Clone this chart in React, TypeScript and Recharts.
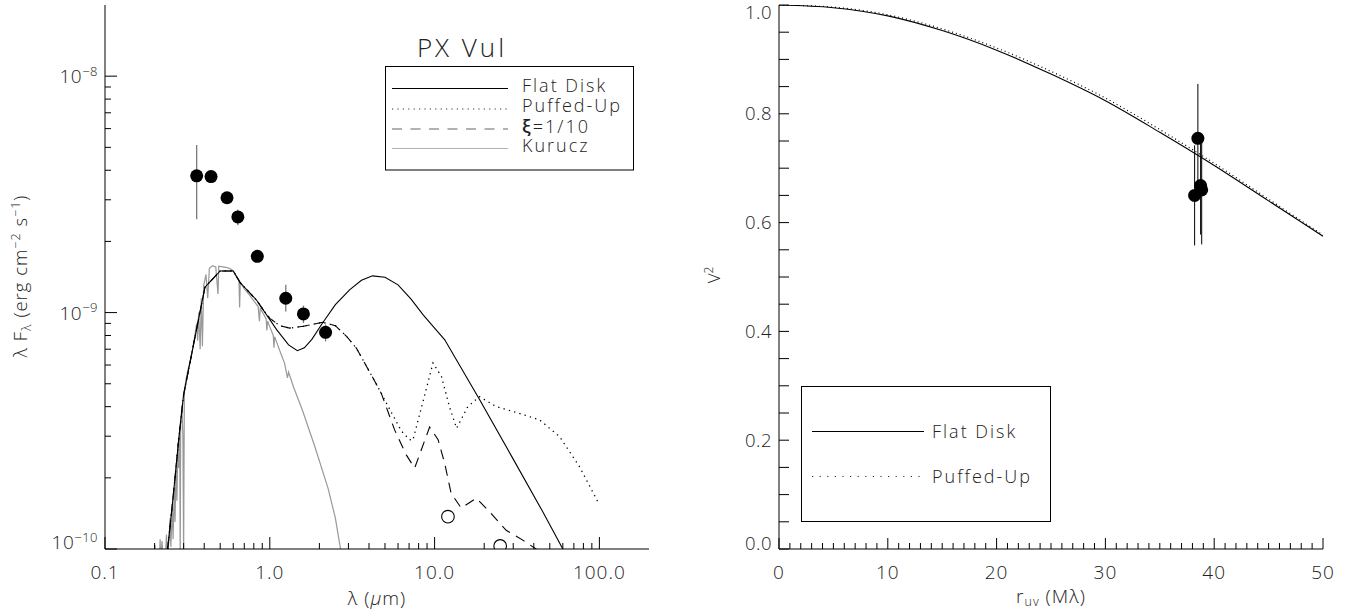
import React from "react";
import { ComposedChart, Line, Scatter, XAxis, YAxis, ErrorBar } from "recharts";

const FONT = "'Open Sans', 'DejaVu Sans', Arial, sans-serif";
const INK = "#222";

// ---- SED panel: wavelength (micron), lambda F_lambda (erg cm^-2 s^-1)
const flatDisk: [number, number][] = [
  [0.24, 1.0e-10], [0.26, 1.7e-10], [0.28, 2.9e-10], [0.3, 4.5e-10],
  [0.404, 1.28e-9], [0.5, 1.5e-9], [0.6, 1.5e-9], [0.66, 1.34e-9],
  [0.83, 1.13e-9], [1.1, 8.47e-10], [1.3, 7.3e-10], [1.47, 6.9e-10],
  [1.62, 7.1e-10], [1.8, 7.7e-10], [2.09, 9.04e-10], [2.5, 1.08e-9],
  [3.06, 1.25e-9], [3.6, 1.37e-9], [4.2, 1.43e-9], [5.0, 1.41e-9],
  [6.0, 1.31e-9], [7.2, 1.14e-9], [8.5, 9.8e-10], [10, 8.6e-10],
  [11.5, 7.69e-10], [18.7, 4.3e-10], [30, 2.4e-10], [45, 1.45e-10],
  [60, 1.0e-10], [70, 0.83e-10],
];

// puffed-up and xi=1/10 models coincide up to ~5 micron
const diskCommon: [number, number][] = [
  [0.24, 1.0e-10], [0.26, 1.7e-10], [0.28, 2.9e-10], [0.3, 4.5e-10],
  [0.404, 1.28e-9], [0.5, 1.5e-9], [0.6, 1.5e-9], [0.66, 1.34e-9],
  [0.83, 1.13e-9], [0.91, 1.03e-9], [1.0, 9.45e-10], [1.15, 8.8e-10],
  [1.32, 8.6e-10], [1.6, 8.75e-10], [2.09, 9.1e-10], [2.5, 8.8e-10],
  [2.92, 7.94e-10], [3.35, 7.08e-10], [4.1, 5.5e-10], [4.75, 4.55e-10],
];

const puffedTail: [number, number][] = [
  [5.5, 3.75e-10], [6.3, 3.15e-10], [7.05, 2.9e-10], [7.38, 2.88e-10],
  [8.5, 4.2e-10], [9.78, 6.12e-10], [11.0, 5.37e-10], [12.3, 4.0e-10],
  [13.6, 3.24e-10], [15.9, 4.0e-10], [18.7, 4.41e-10], [23.7, 4.0e-10],
  [29.8, 3.82e-10], [43.3, 3.52e-10], [57.3, 2.99e-10], [75.7, 2.23e-10],
  [100, 1.54e-10],
];

const xiTail: [number, number][] = [
  [5.72, 3.19e-10], [6.73, 2.5e-10], [7.57, 2.2e-10], [9.33, 3.28e-10],
  [10.5, 2.9e-10], [11.5, 2.31e-10], [12.6, 1.72e-10], [14.5, 1.49e-10],
  [17.9, 1.64e-10], [21.5, 1.44e-10], [27.2, 1.2e-10], [34.3, 1.09e-10],
  [41.3, 1.0e-10], [50, 0.92e-10],
];

const kurucz: [number, number][] = [
  [0.2, 0.95e-10], [0.201, 1.04e-10], [0.203, 0.9e-10],
  [0.214, 0.9e-10], [0.216, 1.1e-10], [0.218, 0.9e-10],
  [0.222, 1.08e-10], [0.225, 0.9e-10],
  [0.233, 0.95e-10], [0.236, 1.15e-10], [0.239, 0.95e-10],
  [0.245, 1.1e-10], [0.248, 1.35e-10], [0.251, 1.02e-10],
  [0.256, 1.5e-10], [0.259, 1.1e-10],
  [0.263, 1.8e-10], [0.266, 1.3e-10],
  [0.27, 2.3e-10], [0.273, 1.6e-10],
  [0.277, 2.8e-10], [0.28, 2.2e-10],
  [0.284, 3.3e-10], [0.286, 0.9e-10], [0.288, 3.5e-10],
  [0.293, 4.0e-10], [0.297, 3.0e-10], [0.3, 0.95e-10], [0.303, 4.6e-10],
  [0.31, 5.2e-10], [0.32, 5.8e-10], [0.33, 6.3e-10], [0.34, 7.0e-10],
  [0.35, 7.9e-10], [0.36, 9.0e-10], [0.365, 7.6e-10], [0.37, 1.0e-9],
  [0.378, 7.0e-10], [0.384, 1.15e-9], [0.39, 7.2e-10], [0.397, 1.3e-9],
  [0.41, 1.45e-9], [0.42, 1.15e-9], [0.43, 1.54e-9], [0.45, 1.58e-9],
  [0.47, 1.56e-9], [0.485, 1.2e-9], [0.49, 1.57e-9], [0.52, 1.56e-9],
  [0.55, 1.55e-9], [0.58, 1.53e-9], [0.6, 1.5e-9], [0.62, 1.44e-9],
  [0.65, 1.37e-9], [0.656, 1.05e-9], [0.662, 1.34e-9], [0.7, 1.26e-9],
  [0.75, 1.19e-9], [0.8, 1.12e-9], [0.85, 1.06e-9], [0.865, 9.2e-10],
  [0.875, 1.04e-9], [0.92, 9.8e-10], [0.95, 9.4e-10], [0.96, 8.4e-10],
  [0.97, 9.2e-10], [1.0, 8.7e-10], [1.05, 8.0e-10], [1.06, 7.1e-10],
  [1.07, 7.9e-10], [1.1, 7.5e-10], [1.15, 6.9e-10], [1.23, 6.1e-10],
  [1.28, 5.3e-10], [1.3, 5.6e-10], [1.4, 4.8e-10], [1.57, 3.9e-10],
  [1.88, 2.7e-10], [2.26, 1.8e-10], [2.5, 1.35e-10], [2.7, 0.98e-10],
  [2.8, 0.88e-10],
];

const photLambda = [0.36, 0.44, 0.55, 0.64, 0.84, 1.25, 1.6, 2.18];
const photFlux = [3.79e-9, 3.76e-9, 3.06e-9, 2.54e-9, 1.73e-9, 1.15e-9, 9.87e-10, 8.25e-10];
const photLow = [2.48e-9, 3.76e-9, 3.06e-9, 2.34e-9, 1.73e-9, 1.01e-9, 9.04e-10, 7.55e-10];
const photHigh = [5.12e-9, 3.76e-9, 3.06e-9, 2.73e-9, 1.73e-9, 1.31e-9, 1.07e-9, 8.9e-10];

const irasLambda = [12.05, 25.0];
const irasFlux = [1.37e-10, 1.03e-10];

const lamTicks = [
  0.1, 0.2, 0.3, 0.4, 0.5, 0.6, 0.7, 0.8, 0.9,
  1, 2, 3, 4, 5, 6, 7, 8, 9,
  10, 20, 30, 40, 50, 60, 70, 80, 90, 100,
];
const fluxTicks = [
  1e-10, 2e-10, 3e-10, 4e-10, 5e-10, 6e-10, 7e-10, 8e-10, 9e-10,
  1e-9, 2e-9, 3e-9, 4e-9, 5e-9, 6e-9, 7e-9, 8e-9, 9e-9, 1e-8,
];
const LAM_DOMAIN: [number, number] = [0.1, 200];
const FLUX_DOMAIN: [number, number] = [1e-10, 2e-8];

// ---- Visibility panel
const ruvModel = [0, 5, 10, 15, 20, 25, 30, 35, 40, 45, 50];
const v2Flat = [1.0, 0.995, 0.98, 0.953, 0.917, 0.873, 0.824, 0.766, 0.705, 0.64, 0.575];
const v2Puffed = [1.0, 0.996, 0.982, 0.956, 0.921, 0.878, 0.829, 0.771, 0.709, 0.643, 0.577];

const ruvObs = [38.2, 38.5, 38.75, 38.85];
const v2Obs = [0.65, 0.755, 0.668, 0.66];
const v2Err = [0.092, 0.1, 0.09, 0.1];

const ruvTicks = Array.from({ length: 51 }, (_, i) => i);
const v2Ticks = Array.from({ length: 21 }, (_, i) => i / 20);

const toXY = (pts: [number, number][]) => pts.map(([x, y]) => ({ x, y }));

const flatData = toXY(flatDisk);
const puffedData = toXY([...diskCommon, ...puffedTail]);
const xiData = toXY([...diskCommon, ...xiTail]);
const kuruczData = toXY(kurucz);
const photData = photLambda.map((x, i) => ({
  x,
  y: photFlux[i],
  err: [photFlux[i] - photLow[i], photHigh[i] - photFlux[i]],
}));
const irasData = irasLambda.map((x, i) => ({ x, y: irasFlux[i] }));

const v2FlatData = ruvModel.map((x, i) => ({ x, y: v2Flat[i] }));
const v2PuffedData = ruvModel.map((x, i) => ({ x, y: v2Puffed[i] }));
const v2ObsData = ruvObs.map((x, i) => ({ x, y: v2Obs[i], err: v2Err[i] }));

const TXT = { fontFamily: FONT, fill: INK, fontWeight: 300 } as const;

type Side = "bottom" | "top" | "left" | "right";

function makeTick(
  side: Side,
  isMajor: (v: number) => boolean,
  majorLen: number,
  minorLen: number,
  label?: (v: number, x: number, y: number) => React.ReactNode
) {
  return (props: any) => {
    const { x, y, payload } = props;
    const v = payload.value as number;
    const major = isMajor(v);
    const len = major ? majorLen : minorLen;
    const dx = side === "left" ? len : side === "right" ? -len : 0;
    const dy = side === "bottom" ? -len : side === "top" ? len : 0;
    return (
      <g>
        <line x1={x} y1={y} x2={x + dx} y2={y + dy} stroke="#000" strokeWidth={1} />
        {major && label ? label(v, x, y) : null}
      </g>
    );
  };
}

const isDecade = (v: number) => Math.abs(Math.log10(v) - Math.round(Math.log10(v))) < 1e-6;

const lamLabel = (v: number, x: number, y: number) => (
  <text x={x} y={y + 30} textAnchor="middle" fontSize={19} letterSpacing={1} {...TXT}>
    {v < 1 ? String(v) : v.toFixed(1)}
  </text>
);

const fluxLabel = (v: number, x: number, y: number) => {
  const e = Math.round(Math.log10(v));
  const shift = v <= FLUX_DOMAIN[0] * 1.001 ? -7 : 0;
  return (
    <text x={x - 7} y={y + 7 + shift} textAnchor="end" fontSize={19} letterSpacing={0.5} {...TXT}>
      10
      <tspan fontSize={13} dy={-7.5}>{`\u2212${-e}`}</tspan>
    </text>
  );
};

const ruvLabel = (v: number, x: number, y: number) =>
  v % 10 === 0 ? (
    <text x={x} y={y + 30} textAnchor="middle" fontSize={19} letterSpacing={1} {...TXT}>
      {String(v)}
    </text>
  ) : null;

const v2Label = (v: number, x: number, y: number) => {
  if (Math.abs(v * 5 - Math.round(v * 5)) > 1e-6) return null;
  const shift = v === 0 ? -6 : v === 1 ? 7 : 0;
  return (
    <text x={x - 7} y={y + 6.5 + shift} textAnchor="end" fontSize={18.5} letterSpacing={0.5} {...TXT}>
      {v.toFixed(1)}
    </text>
  );
};

const dot = (p: any) => <circle cx={p.cx} cy={p.cy} r={6.5} fill="#000" />;
const openDot = (p: any) => (
  <circle cx={p.cx} cy={p.cy} r={6.3} fill="none" stroke="#000" strokeWidth={1.1} />
);
const noShape = () => <g />;

function SedPanel() {
  return (
    <ComposedChart width={677} height={612} margin={{ top: 5, right: 28, bottom: 23, left: 25 }}>
      <XAxis
        xAxisId="b"
        dataKey="x"
        type="number"
        scale="log"
        domain={LAM_DOMAIN}
        allowDataOverflow
        ticks={lamTicks}
        interval={0}
        height={40}
        tickSize={0}
        tickMargin={0}
        tickLine={false}
        axisLine={{ stroke: "#000" }}
        tick={makeTick("bottom", isDecade, 12, 6, lamLabel)}
      />
      <XAxis
        xAxisId="t"
        orientation="top"
        dataKey="x"
        type="number"
        scale="log"
        domain={LAM_DOMAIN}
        allowDataOverflow
        ticks={lamTicks}
        interval={0}
        height={0}
        tickSize={0}
        tickMargin={0}
        tickLine={false}
        axisLine={{ stroke: "#000" }}
        tick={makeTick("top", isDecade, 12, 6)}
      />
      <YAxis
        yAxisId="l"
        dataKey="y"
        type="number"
        scale="log"
        domain={FLUX_DOMAIN}
        allowDataOverflow
        ticks={fluxTicks}
        interval={0}
        width={80}
        tickSize={0}
        tickMargin={0}
        tickLine={false}
        axisLine={{ stroke: "#000" }}
        tick={makeTick("left", isDecade, 12, 6, fluxLabel)}
      />
      <YAxis
        yAxisId="r"
        orientation="right"
        dataKey="y"
        type="number"
        scale="log"
        domain={FLUX_DOMAIN}
        allowDataOverflow
        ticks={fluxTicks}
        interval={0}
        width={0}
        tickSize={0}
        tickMargin={0}
        tickLine={false}
        axisLine={{ stroke: "#000" }}
        tick={makeTick("right", isDecade, 12, 6)}
      />

      <Line xAxisId="b" yAxisId="l" data={kuruczData} dataKey="y" type="linear" stroke="#999"
        strokeWidth={1.2} dot={false} activeDot={false} isAnimationActive={false} />
      <Line xAxisId="b" yAxisId="l" data={xiData} dataKey="y" type="linear" stroke="#000"
        strokeWidth={1.1} strokeDasharray="10 7" dot={false} activeDot={false} isAnimationActive={false} />
      <Line xAxisId="b" yAxisId="l" data={puffedData} dataKey="y" type="linear" stroke="#000"
        strokeWidth={1.3} strokeDasharray="1.3 4.2" dot={false} activeDot={false} isAnimationActive={false} />
      <Line xAxisId="b" yAxisId="l" data={flatData} dataKey="y" type="linear" stroke="#000"
        strokeWidth={1.1} dot={false} activeDot={false} isAnimationActive={false} />

      <Scatter xAxisId="b" yAxisId="l" data={photData} shape={noShape} isAnimationActive={false}>
        <ErrorBar dataKey="err" direction="y" width={0} stroke="#7a7a7a" strokeWidth={1.3}
          isAnimationActive={false} />
      </Scatter>
      <Scatter xAxisId="b" yAxisId="l" data={photData} shape={dot} isAnimationActive={false} />
      <Scatter xAxisId="b" yAxisId="l" data={irasData} shape={openDot} isAnimationActive={false} />
    </ComposedChart>
  );
}

function VisPanel() {
  const isTen = (v: number) => v % 10 === 0;
  return (
    <ComposedChart width={677} height={612} margin={{ top: 5, right: 31, bottom: 23, left: 22 }}>
      <XAxis
        xAxisId="b"
        dataKey="x"
        type="number"
        domain={[0, 50]}
        allowDataOverflow
        ticks={ruvTicks}
        interval={0}
        height={40}
        tickSize={0}
        tickMargin={0}
        tickLine={false}
        axisLine={{ stroke: "#000" }}
        tick={makeTick("bottom", isTen, 11, 6, ruvLabel)}
      />
      <XAxis
        xAxisId="t"
        orientation="top"
        dataKey="x"
        type="number"
        domain={[0, 50]}
        allowDataOverflow
        ticks={ruvTicks}
        interval={0}
        height={0}
        tickSize={0}
        tickMargin={0}
        tickLine={false}
        axisLine={{ stroke: "#000" }}
        tick={makeTick("top", isTen, 11, 6)}
      />
      <YAxis
        yAxisId="l"
        dataKey="y"
        type="number"
        domain={[0, 1]}
        allowDataOverflow
        ticks={v2Ticks}
        interval={0}
        width={80}
        tickSize={0}
        tickMargin={0}
        tickLine={false}
        axisLine={{ stroke: "#000" }}
        tick={makeTick("left", () => true, 10, 10, v2Label)}
      />
      <YAxis
        yAxisId="r"
        orientation="right"
        dataKey="y"
        type="number"
        domain={[0, 1]}
        allowDataOverflow
        ticks={v2Ticks}
        interval={0}
        width={0}
        tickSize={0}
        tickMargin={0}
        tickLine={false}
        axisLine={{ stroke: "#000" }}
        tick={makeTick("right", () => true, 10, 10)}
      />

      <Line xAxisId="b" yAxisId="l" data={v2PuffedData} dataKey="y" type="monotone" stroke="#000"
        strokeWidth={1.2} strokeDasharray="1 3" dot={false} activeDot={false} isAnimationActive={false} />
      <Line xAxisId="b" yAxisId="l" data={v2FlatData} dataKey="y" type="monotone" stroke="#000"
        strokeWidth={1.1} dot={false} activeDot={false} isAnimationActive={false} />

      <Scatter xAxisId="b" yAxisId="l" data={v2ObsData} shape={noShape} isAnimationActive={false}>
        <ErrorBar dataKey="err" direction="y" width={0} stroke="#000" strokeWidth={1}
          isAnimationActive={false} />
      </Scatter>
      <Scatter xAxisId="b" yAxisId="l" data={v2ObsData} shape={dot} isAnimationActive={false} />
    </ComposedChart>
  );
}

function Overlay() {
  const leg = { fontSize: 18, letterSpacing: 2, ...TXT };
  return (
    <svg width={1354} height={612} style={{ position: "absolute", left: 0, top: 0, pointerEvents: "none" }}>
      {/* SED panel title and legend */}
      <text x={462} y={57} textAnchor="middle" fontSize={26} letterSpacing={3} {...TXT}>PX Vul</text>
      <rect x={385.5} y={66.5} width={248} height={103.5} fill="none" stroke="#000" strokeWidth={1} />
      <line x1={392} x2={508} y1={88.5} y2={88.5} stroke="#000" strokeWidth={1.1} />
      <line x1={392} x2={508} y1={109} y2={109} stroke="#333" strokeWidth={1.2} strokeDasharray="1.2 4.2" />
      <line x1={392} x2={508} y1={129} y2={129} stroke="#666" strokeWidth={1.2} strokeDasharray="10 8.5" />
      <line x1={392} x2={508} y1={148.5} y2={148.5} stroke="#b3b3b3" strokeWidth={1.2} />
      <text x={522} y={92} {...leg}>Flat Disk</text>
      <text x={522} y={112} {...leg}>Puffed-Up</text>
      <text x={522} y={133} {...leg}>
        <tspan fontWeight={600}>ξ</tspan>=1/10
      </text>
      <text x={522} y={152} {...leg}>Kurucz</text>

      {/* SED axis titles */}
      <text transform="translate(27,276) rotate(-90)" textAnchor="middle" fontSize={18.5} letterSpacing={1} {...TXT}>
        λ F<tspan fontSize={13} dy={4}>λ</tspan>
        <tspan dy={-4}> (erg cm</tspan>
        <tspan fontSize={12.5} dy={-7}>−2</tspan>
        <tspan dy={7}> s</tspan>
        <tspan fontSize={12.5} dy={-7}>−1</tspan>
        <tspan dy={7}>)</tspan>
      </text>
      <text x={377} y={605} textAnchor="middle" fontSize={19} letterSpacing={1} {...TXT}>
        λ (<tspan fontStyle="italic">μ</tspan>m)
      </text>

      {/* visibility legend */}
      <rect x={801.5} y={386.5} width={249} height={135} fill="none" stroke="#000" strokeWidth={1} />
      <line x1={812} x2={924} y1={431.5} y2={431.5} stroke="#000" strokeWidth={1.1} />
      <line x1={812} x2={924} y1={476.5} y2={476.5} stroke="#333" strokeWidth={1.2} strokeDasharray="1.2 6.4" />
      <text x={932} y={438} {...leg}>Flat Disk</text>
      <text x={932} y={483} {...leg}>Puffed-Up</text>

      {/* visibility axis titles */}
      <text x={1051} y={603} textAnchor="middle" fontSize={19} letterSpacing={1} {...TXT}>
        r<tspan fontSize={12.5} dy={3}>uv</tspan>
        <tspan dy={-3}> (Mλ)</tspan>
      </text>
      <text transform="translate(720,275) rotate(-90)" textAnchor="middle" fontSize={17} {...TXT}>
        V<tspan fontSize={12} dy={-7}>2</tspan>
      </text>
    </svg>
  );
}

export default function App() {
  return (
    <div style={{ position: "absolute", left: 0, top: 0, width: 1354, height: 612, background: "#fff" }}>
      <div style={{ position: "absolute", left: 0, top: 0 }}>
        <SedPanel />
      </div>
      <div style={{ position: "absolute", left: 677, top: 0 }}>
        <VisPanel />
      </div>
      <Overlay />
    </div>
  );
}
